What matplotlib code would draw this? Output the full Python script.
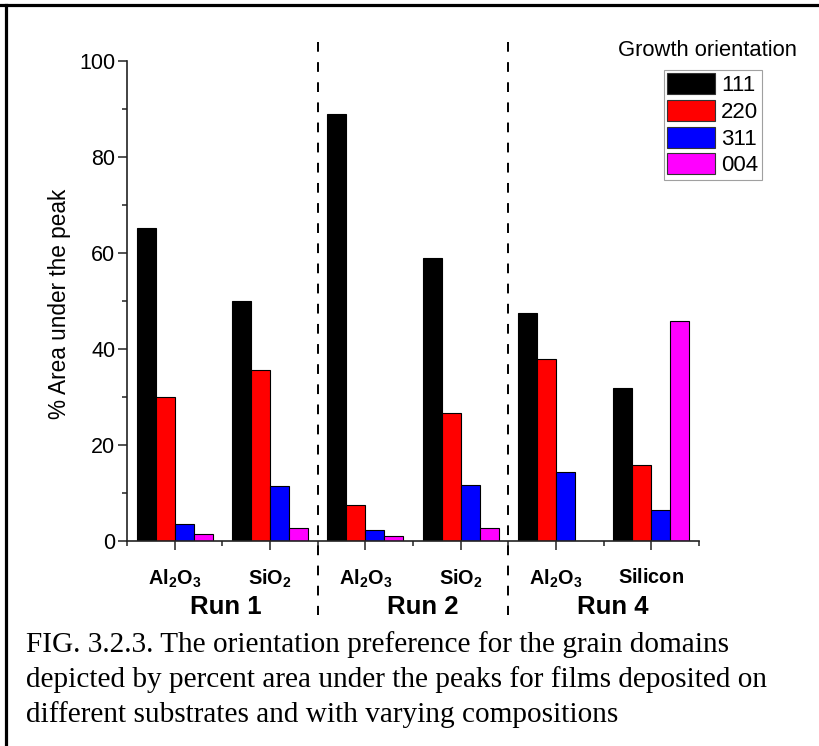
import matplotlib
matplotlib.use('Agg')
import matplotlib.pyplot as plt
import matplotlib.transforms as mtransforms
from matplotlib.lines import Line2D
from matplotlib.patches import Patch
import numpy as np

# ---- data ----
substrates = [r'$\mathbf{Al_2O_3}$', r'$\mathbf{SiO_2}$', r'$\mathbf{Al_2O_3}$',
              r'$\mathbf{SiO_2}$', r'$\mathbf{Al_2O_3}$', r'$\mathbf{Silicon}$']
runs = ['Run 1', 'Run 2', 'Run 4']
orientations = ['111', '220', '311', '004']
v111 = [65.2, 50.0, 88.9, 58.9, 47.5, 31.8]
v220 = [30.0, 35.7, 7.6, 26.7, 38.0, 15.9]
v311 = [3.5, 11.4, 2.3, 11.6, 14.4, 6.4]
v004 = [1.4, 2.8, 1.1, 2.7, 0.0, 45.9]
yticks = [0, 20, 40, 60, 80, 100]
caption_lines = [
    "FIG. 3.2.3. The orientation preference for the grain domains",
    "depicted by percent area under the peaks for films deposited on",
    "different substrates and with varying compositions",
]
colors = ['#000000', '#ff0000', '#0000ff', '#ff00ff']

plt.rcParams['font.family'] = ['Liberation Sans', 'DejaVu Sans']
plt.rcParams['mathtext.fontset'] = 'custom'
plt.rcParams['mathtext.rm'] = 'Liberation Sans'
plt.rcParams['mathtext.bf'] = 'Liberation Sans:bold'
plt.rcParams['mathtext.it'] = 'Liberation Sans:italic'
plt.rcParams['lines.scale_dashes'] = False

W, H = 820, 746
fig = plt.figure(figsize=(W / 100, H / 100), dpi=100)
fig.patch.set_facecolor('white')

ax_l, ax_r, ax_t, ax_b = 127, 699, 61, 541
ax = fig.add_axes([ax_l / W, 1 - ax_b / H, (ax_r - ax_l) / W, (ax_b - ax_t) / H])

series = [v111, v220, v311, v004]
x = np.arange(len(substrates))
bw = 0.2
offsets = [-1.5 * bw, -0.5 * bw, 0.5 * bw, 1.5 * bw]
handles = []
for vals, off, c, lab in zip(series, offsets, colors, orientations):
    ax.bar(x + off, vals, width=bw, color=c, edgecolor='black', linewidth=0.8, zorder=2)
    handles.append(Patch(facecolor=c, edgecolor='#333333', linewidth=0.8, label=lab))

ax.set_xlim(-0.5, len(substrates) - 0.5)
ax.set_ylim(0, 100)
for s in ['top', 'right']:
    ax.spines[s].set_visible(False)
for s in ['left', 'bottom']:
    ax.spines[s].set_linewidth(1.2)
    ax.spines[s].set_color('#222222')

ax.set_yticks(yticks)
ax.set_yticks(np.arange(10, 100, 20), minor=True)
ax.tick_params(axis='y', which='major', length=6.5, width=1.1, direction='out',
               labelsize=15.5, pad=2, colors='#222222')
ax.tick_params(axis='y', which='minor', length=3.8, width=1.1, direction='out', colors='#222222')
ax.set_xticks(x)
ax.set_xticklabels(substrates)
ax.set_xticks(np.arange(-0.5, len(substrates), 1.0), minor=True)
ax.tick_params(axis='x', which='major', length=6.5, width=1.1, direction='out',
               labelsize=14.3, pad=13, colors='#222222')
ax.tick_params(axis='x', which='minor', length=3.8, width=1.1, direction='out', colors='#222222')
for t in ax.get_xticklabels():
    t.set_color('black')
for t in ax.get_yticklabels():
    t.set_color('black')

ax.set_ylabel('% Area under the peak', fontsize=16.3)
ax.yaxis.set_label_coords(71 / W, 1 - 304 / H, transform=fig.transFigure)

# run labels
bt = mtransforms.blended_transform_factory(ax.transData, fig.transFigure)
run_offsets = [0.04, 0.1, 0.1]
for i, (r, o) in enumerate(zip(runs, run_offsets)):
    fig.text(2 * i + 0.5 + o, 1 - 614 / H, r, transform=bt, ha='center', va='baseline',
             fontsize=18.5, fontweight='bold')

# dashed separators
for xs in [1.5, 3.5]:
    ln = Line2D([xs, xs], [1 - 42 / H, 1 - 615 / H], transform=bt, color='black',
                lw=1.4, dashes=(7.0, 7.5), clip_on=False)
    fig.add_artist(ln)

# legend
fig.text(707 / W, 1 - 56 / H, 'Growth orientation', ha='center', va='baseline', fontsize=15.8)
leg = fig.legend(handles=handles, loc='upper left', bbox_to_anchor=(664 / W, 1 - 70 / H),
                 bbox_transform=fig.transFigure, fontsize=16, frameon=True, fancybox=False,
                 borderaxespad=0, borderpad=0.15, handlelength=2.15, handleheight=1.08,
                 handletextpad=0.27, labelspacing=0.16)
leg.get_frame().set_edgecolor('#888888')
leg.get_frame().set_linewidth(0.8)

# caption
for i, line in enumerate(caption_lines):
    fig.text(26 / W, 1 - (652 + 35 * i) / H, line, ha='left', va='baseline',
             fontsize=21.1, family='Liberation Serif')

# page frame (top and left)
fig.add_artist(Line2D([0, 1], [1 - 5 / H, 1 - 5 / H], transform=fig.transFigure,
                      color='black', lw=2.3))
fig.add_artist(Line2D([6 / W, 6 / W], [0, 1 - 5 / H], transform=fig.transFigure,
                      color='black', lw=2.3))

fig.savefig('out.png', dpi=100)
